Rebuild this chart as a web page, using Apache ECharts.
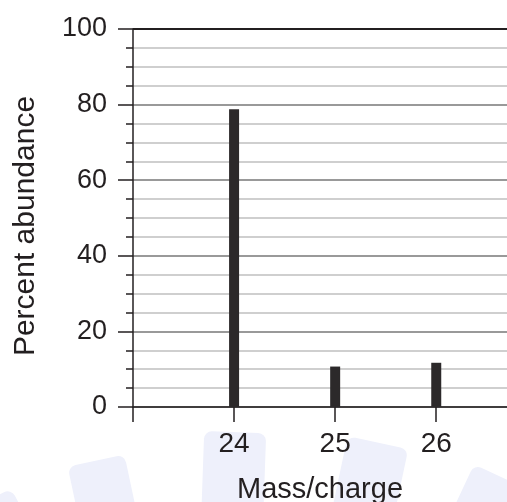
<!DOCTYPE html>
<html>
<head>
<meta charset="utf-8">
<script src="https://cdn.jsdelivr.net/npm/echarts@6/dist/echarts.min.js"></script>
<style>html,body{margin:0;padding:0;background:#fff}#c{width:507px;height:502px}</style>
</head>
<body>
<div id="c"></div>
<script>
var massCharge = [24, 25, 26];
var abundance = [78.8, 10.7, 11.7];
var xTickValues = [23, 24, 25, 26];
var xLabelValues = [24, 25, 26];
var yTickLabels = [0, 20, 40, 60, 80, 100];

var chart = echarts.init(document.getElementById('c'), null, {renderer: 'canvas'});
var font = 'Liberation Sans, Arial, Helvetica, sans-serif';
var ink = '#231f20';
var wm = '#eef0fb';
function blob(x, y, w, h, rot) {
  return {type: 'rect', z: -10, x: x, y: y, rotation: rot * Math.PI / 180, originX: w / 2, originY: h,
    shape: {x: 0, y: 0, width: w, height: h, r: 8}, style: {fill: wm}, silent: true};
}
chart.setOption({
  animation: false,
  backgroundColor: '#fff',
  graphic: [
    blob(25, 485, 45, 120, 28),
    blob(92, 458, 58, 120, 12),
    blob(200, 432, 62, 120, -2),
    blob(322, 440, 62, 120, -12),
    blob(420, 468, 70, 120, -25)
  ],
  grid: {left: 133, right: 0, top: 29, bottom: 95, containLabel: false, outerBoundsMode: 'none'},
  xAxis: {
    type: 'value', min: 23, max: 26.7, interval: 1,
    name: 'Mass/charge', nameLocation: 'middle', nameGap: 68,
    nameTextStyle: {fontFamily: font, fontSize: 29, color: '#231f20'},
    axisLine: {show: true, onZero: false, lineStyle: {color: ink, width: 1.5}},
    axisTick: {show: true, length: 15, customValues: xTickValues, lineStyle: {color: ink, width: 1.5}},
    axisLabel: {customValues: xLabelValues, margin: 23, fontFamily: font, fontSize: 28, color: '#231f20'},
    splitLine: {show: false}
  },
  yAxis: {
    type: 'value', min: 0, max: 100, interval: 20,
    name: 'Percent abundance', nameLocation: 'middle', nameGap: 92, nameRotate: 90,
    nameTextStyle: {fontFamily: font, fontSize: 30, color: '#231f20', padding: [0, 16, 0, 0]},
    axisLine: {show: true, lineStyle: {color: ink, width: 1.5}},
    axisTick: {show: true, length: 15, lineStyle: {color: ink, width: 1.5}},
    minorTick: {show: true, splitNumber: 4, length: 7, lineStyle: {color: ink, width: 1.5}},
    axisLabel: {margin: 26, fontFamily: font, fontSize: 27, color: '#231f20',
      formatter: function (v) { return yTickLabels.indexOf(v) >= 0 ? String(v) : ''; }},
    splitLine: {show: true, lineStyle: {color: ['#999', '#999', '#999', '#999', '#999', ink], width: 2}},
    minorSplitLine: {show: true, lineStyle: {color: '#cfcfcf', width: 2}}
  },
  series: [{
    type: 'bar',
    barWidth: 10,
    data: massCharge.map(function (m, i) { return [m, abundance[i]]; }),
    itemStyle: {color: '#2c292a'}
  }]
});
</script>
</body>
</html>
